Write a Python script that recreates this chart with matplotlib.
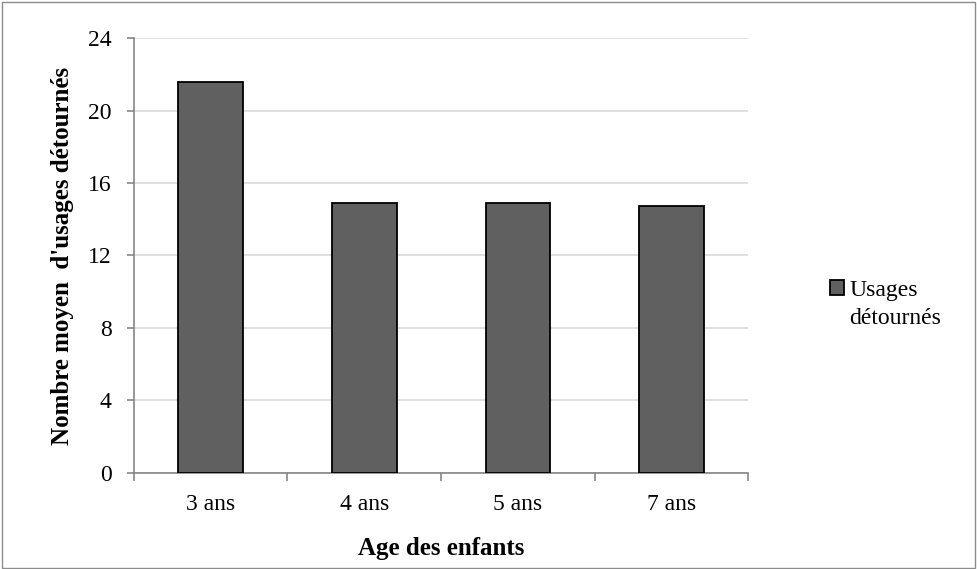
import matplotlib
matplotlib.use("Agg")
import matplotlib.pyplot as plt
from matplotlib.patches import Rectangle
import numpy as np

plt.rcParams['font.family'] = ['Liberation Serif', 'DejaVu Serif']

categories = ['3 ans', '4 ans', '5 ans', '7 ans']
usages = [21.6, 14.9, 14.9, 14.75]
y_ticks = [0, 4, 8, 12, 16, 20, 24]
series_name = 'Usages\ndétournés'

fig = plt.figure(figsize=(9.77, 5.69), dpi=100)
fig.patches.append(Rectangle((0.002, 0.002), 0.996, 0.995, transform=fig.transFigure,
                             fill=False, edgecolor='#8c8c8c', linewidth=1.0))
ax = fig.add_axes([0.137, 0.169, 0.629, 0.764])

x = np.arange(len(categories))
bars = ax.bar(x, usages, width=0.42, color='#606060', edgecolor='black', linewidth=1.3,
              zorder=3, label=series_name)

ax.set_ylim(0, 24)
ax.set_xlim(-0.5, len(categories) - 0.5)
ax.set_yticks(y_ticks)
ax.yaxis.grid(True, color='#d9d9d9', linewidth=1.2, zorder=0)
ax.set_xticks(x)
ax.set_xticklabels(categories)
ax.set_xticks(np.arange(-0.5, len(categories), 1.0), minor=True)
ax.tick_params(axis='x', which='major', length=0, pad=15, labelsize=17)
ax.tick_params(axis='x', which='minor', length=6, color='#868686', width=1.2)
ax.tick_params(axis='y', length=5, color='#868686', width=1.2, labelsize=17, pad=11)

for side in ['top', 'right']:
    ax.spines[side].set_visible(False)
for side in ['left', 'bottom']:
    ax.spines[side].set_color('#868686')
    ax.spines[side].set_linewidth(1.2)

ax.set_xlabel('Age des enfants', fontsize=18, fontweight='bold', labelpad=16)
ax.set_ylabel("Nombre moyen  d'usages détournés", fontsize=18, fontweight='bold', labelpad=10)

leg = fig.legend(handles=[bars], labels=[series_name], loc='center left',
                 bbox_to_anchor=(0.828, 0.465), frameon=False, fontsize=17,
                 handlelength=0.6, handleheight=0.6, handletextpad=0.2)
leg.get_texts()[0].set_linespacing(1.45)
# put the marker next to the first line, like the original
for col in leg._legend_handle_box.get_children():
    for item in col.get_children():
        item.align = 'top'

fig.savefig('out.png', dpi=100)
